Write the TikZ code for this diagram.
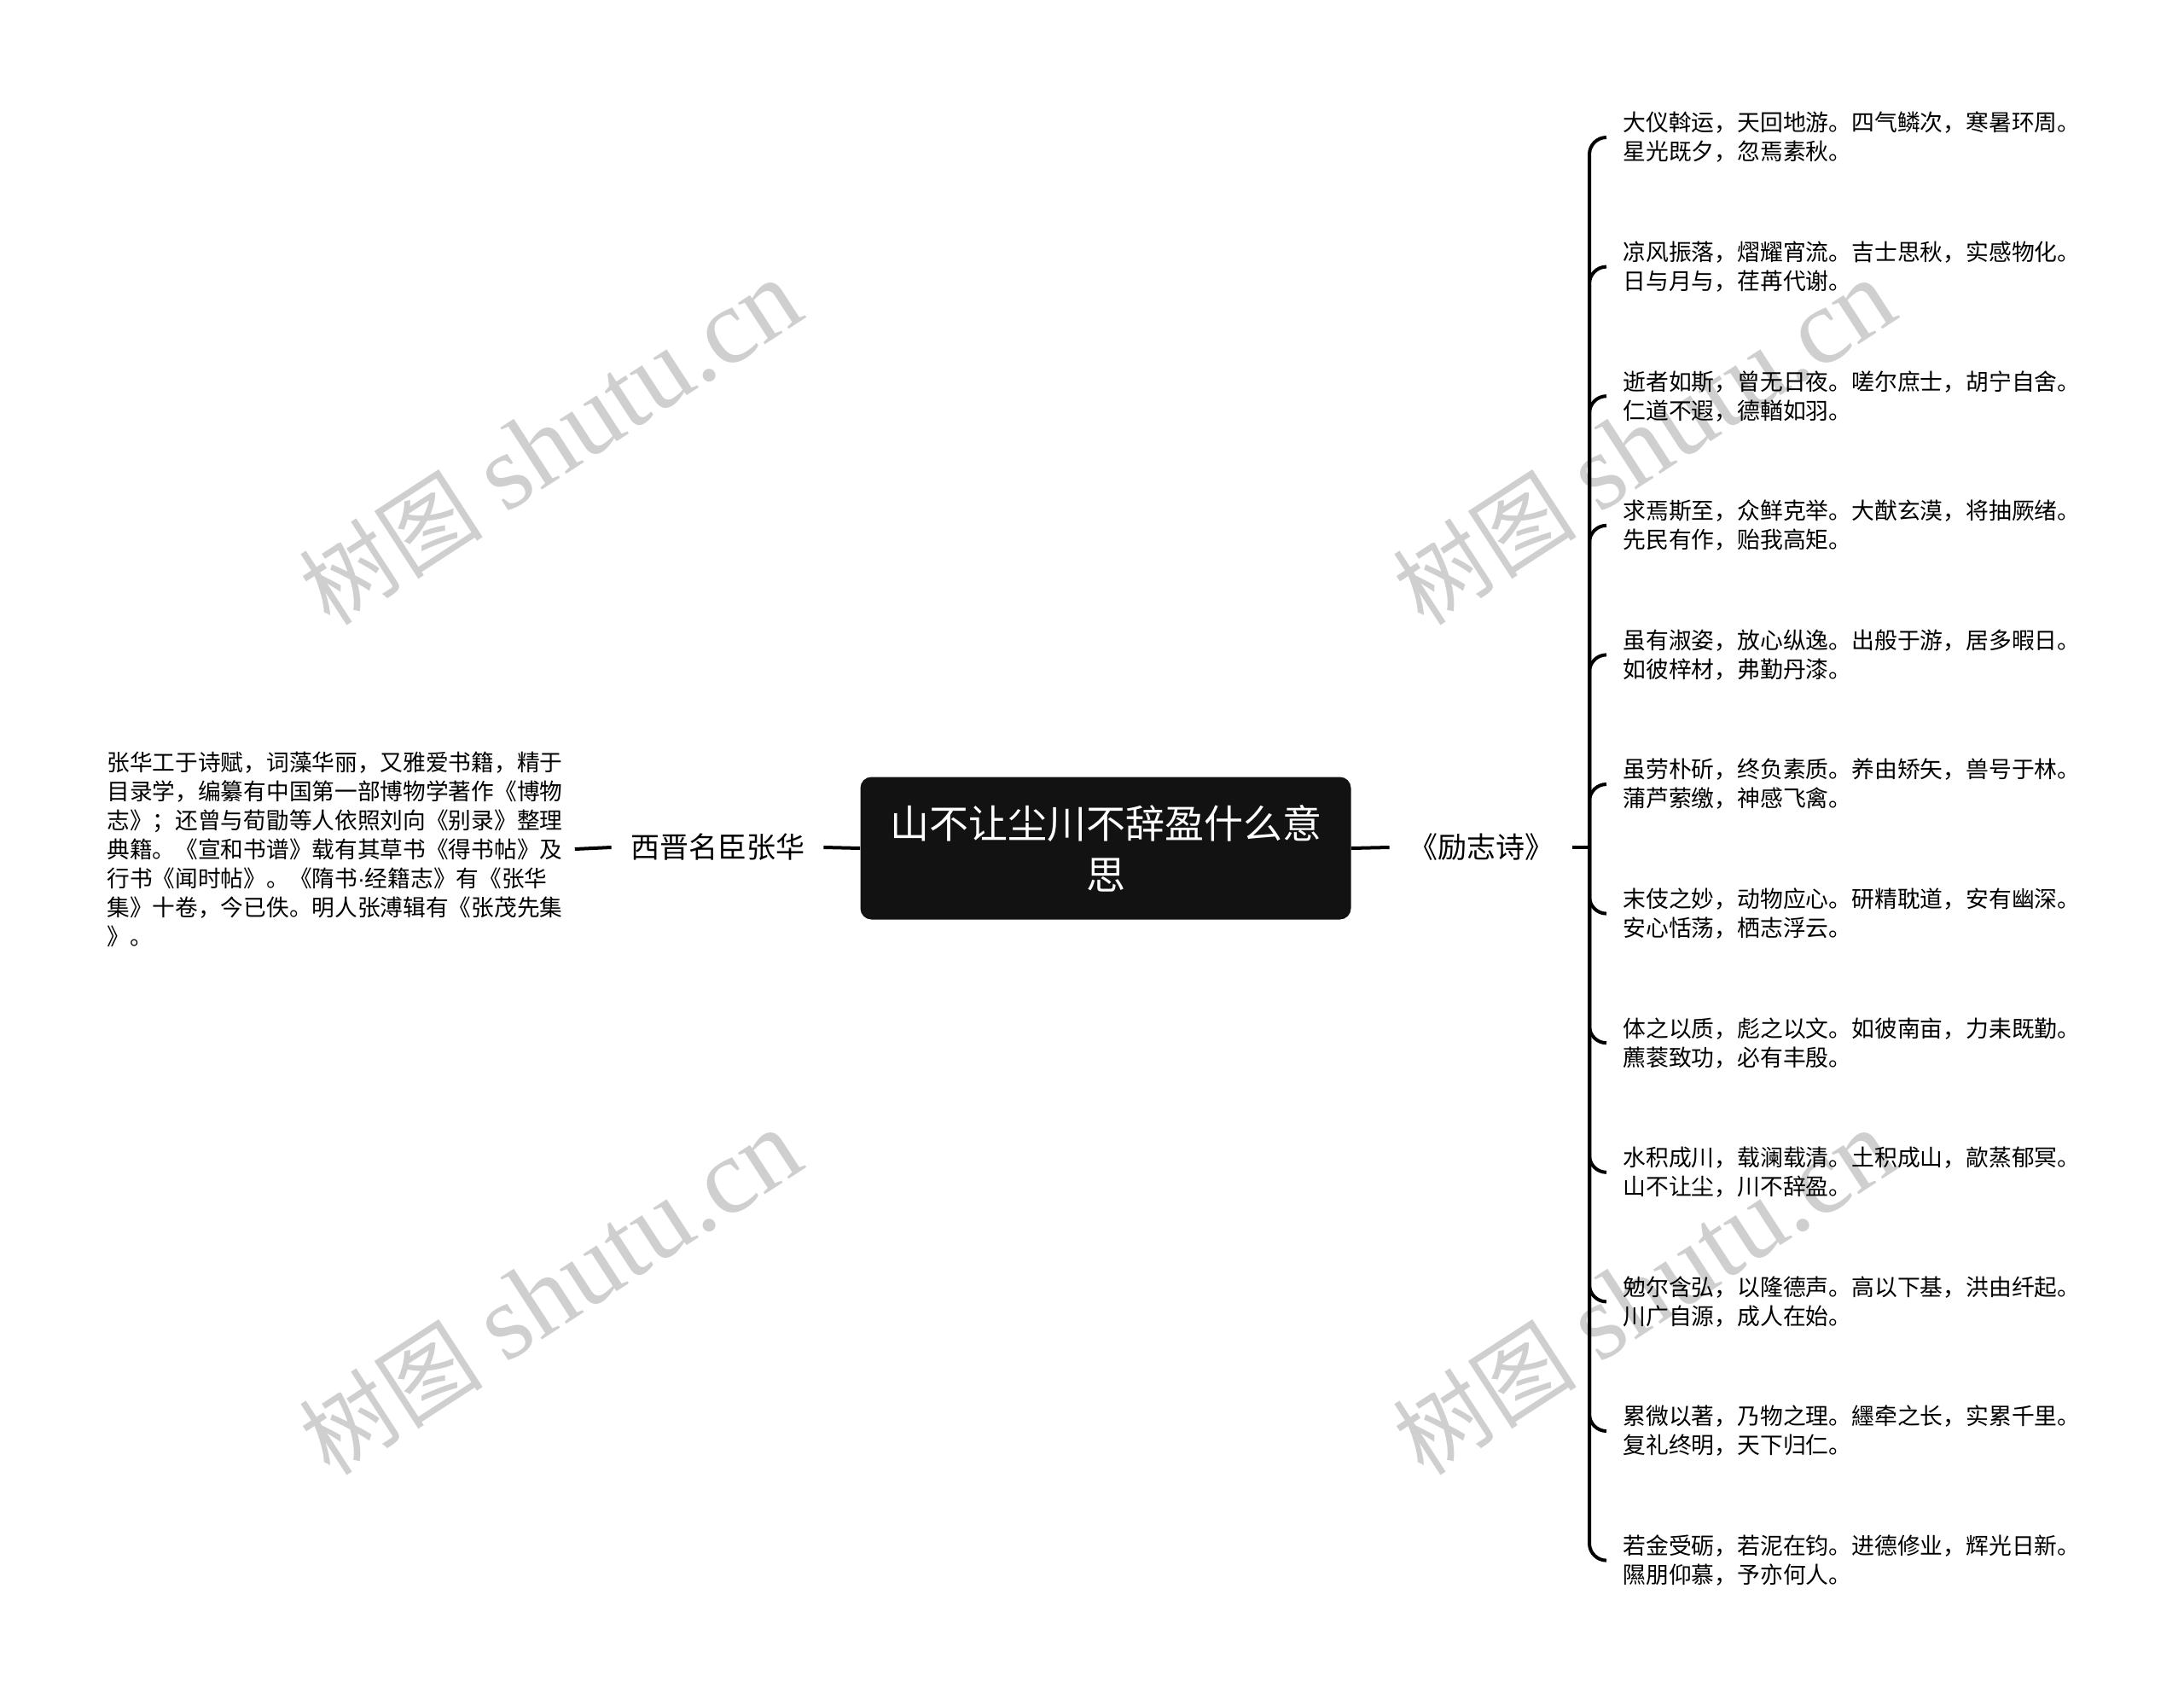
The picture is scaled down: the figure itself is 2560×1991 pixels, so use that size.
\documentclass[tikz,border=0pt]{standalone}
\usepackage{fontspec}
\setmainfont{Noto Sans CJK SC}
\newfontfamily\wmlatin{Liberation Serif}
\newfontfamily\latinsans{Liberation Sans}
\begin{document}
\begin{tikzpicture}[x=0.5pt,y=-0.5pt,
  conn/.style={line width=2pt, black},
  bracketconn/.style={line width=2pt, black, rounded corners=10pt},
  rootbox/.style={fill=black!93, text=white, rounded corners=6.5pt,
    minimum width=287.5pt, minimum height=83.5pt, align=center,
    inner sep=0pt, font=\fontsize{23}{30}\selectfont},
  lvlone/.style={font=\fontsize{17}{20}\selectfont, inner xsep=11pt, inner ysep=2pt},
  leaf/.style={anchor=west, font=\fontsize{13.4}{17}\selectfont, align=left,
    inner xsep=9.5pt, inner ysep=0pt},
  desc/.style={anchor=west, font=\fontsize{13.35}{17}\selectfont, align=left,
    inner xsep=7pt, inner ysep=0pt},
  wm/.style={text=black!19, rotate=33, inner sep=0pt}
]
\useasboundingbox (0,0) rectangle (2560,1991);
\fill[white] (0,0) rectangle (2560,1991);

% watermarks
\foreach \wx/\wy in {645/519, 1927/519, 645/1515, 1927/1515}
  \node[wm] (wm-\wx-\wy) at (\wx,\wy) {\fontsize{54}{60}\selectfont 树图\hspace{14pt}{\wmlatin\fontsize{63}{70}\selectfont shutu.cn}};

% root
\node[rootbox] (root) at (1296,994) {山不让尘川不辞盈什么意\\思};

% left branch
\node[lvlone] (xj) at (841,993) {西晋名臣张华};
\node[desc] (desc) at (111,995) {张华工于诗赋，词藻华丽，又雅爱书籍，精于\\
目录学，编纂有中国第一部博物学著作《博物\\
志》；还曾与荀勖等人依照刘向《别录》整理\\
典籍。《宣和书谱》载有其草书《得书帖》及\\
行书《闻时帖》。《隋书{\latinsans ·}经籍志》有《张华\\
集》十卷，今已佚。明人张溥辑有《张茂先集\\
》。};
\draw[conn] (root.west) -- (xj.east);
\draw[conn] (xj.west) -- (desc.east);

% right branch
\node[lvlone] (lz) at (1736,993) {《励志诗》};
\coordinate (jn) at (1863,993);
\draw[conn] (root.east) -- (lz.west);
\draw[conn] (lz.east) -- (jn);

\node[leaf] (l1) at (1883,161) {大仪斡运，天回地游。四气鳞次，寒暑环周。\\星光既夕，忽焉素秋。};
\node[leaf] (l2) at (1883,312.6) {凉风振落，熠耀宵流。吉士思秋，实感物化。\\日与月与，荏苒代谢。};
\node[leaf] (l3) at (1883,464.2) {逝者如斯，曾无日夜。嗟尔庶士，胡宁自舍。\\仁道不遐，德輶如羽。};
\node[leaf] (l4) at (1883,615.8) {求焉斯至，众鲜克举。大猷玄漠，将抽厥绪。\\先民有作，贻我高矩。};
\node[leaf] (l5) at (1883,767.4) {虽有淑姿，放心纵逸。出般于游，居多暇日。\\如彼梓材，弗勤丹漆。};
\node[leaf] (l6) at (1883,919) {虽劳朴斫，终负素质。养由矫矢，兽号于林。\\蒲芦萦缴，神感飞禽。};
\node[leaf] (l7) at (1883,1070.6) {末伎之妙，动物应心。研精耽道，安有幽深。\\安心恬荡，栖志浮云。};
\node[leaf] (l8) at (1883,1222.2) {体之以质，彪之以文。如彼南亩，力耒既勤。\\藨蓘致功，必有丰殷。};
\node[leaf] (l9) at (1883,1373.8) {水积成川，载澜载清。土积成山，歊蒸郁冥。\\山不让尘，川不辞盈。};
\node[leaf] (l10) at (1883,1525.4) {勉尔含弘，以隆德声。高以下基，洪由纤起。\\川广自源，成人在始。};
\node[leaf] (l11) at (1883,1677) {累微以著，乃物之理。纆牵之长，实累千里。\\复礼终明，天下归仁。};
\node[leaf] (l12) at (1883,1828.6) {若金受砺，若泥在钧。进德修业，辉光日新。\\隰朋仰慕，予亦何人。};

\foreach \k in {1,...,12}
  \draw[bracketconn] (jn) |- (l\k.west);
\end{tikzpicture}
\end{document}
